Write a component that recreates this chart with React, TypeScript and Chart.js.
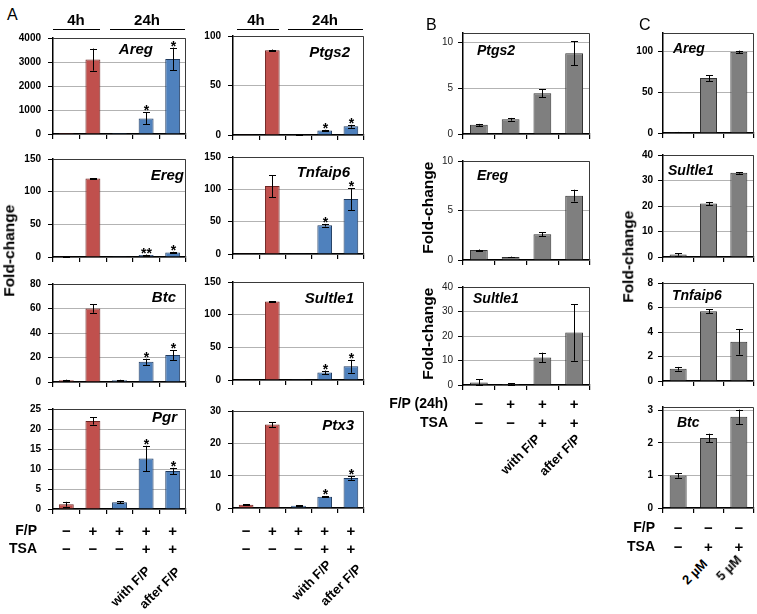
import React, { useEffect, useRef } from 'react';
import { Chart, registerables } from 'chart.js';
Chart.register(...registerables);

const FONT = '"Liberation Sans", Arial, sans-serif';
Chart.defaults.font.family = FONT;

// ---------------- data ----------------
const catsA = ['F/P− TSA−', 'F/P+ 4h', 'F/P+ 24h', 'F/P+ TSA with F/P', 'F/P+ TSA after F/P'];
const catsB = ['F/P− TSA−', 'F/P+ TSA−', 'F/P+ TSA with F/P', 'F/P+ TSA after F/P'];
const catsC = ['Control', 'TSA 2 µM', 'TSA 5 µM'];

const fpSignsA = ['−', '+', '+', '+', '+'];
const tsaSignsA = ['−', '−', '−', '+', '+'];
const fpSignsB = ['−', '+', '+', '+'];
const tsaSignsB = ['−', '−', '+', '+'];
const fpSignsC = ['−', '−', '−'];
const tsaSignsC = ['−', '+', '+'];
const treatLabels = ['with F/P', 'after F/P'];
const doseLabels = ['2 µM', '5 µM'];

// Panel A (fold-change, SEM)
const aAreg = [4, 3100, 4, 650, 3130];
const aAregErr = [0, 460, 0, 250, 470];
const aEreg = [1, 120, 0.3, 3, 7];
const aEregErr = [0.3, 0.5, 0, 0.8, 1];
const aBtc = [1.5, 60, 1.5, 16.5, 22];
const aBtcErr = [0.4, 3.5, 0.3, 2.5, 4];
const aPgr = [1.2, 22, 1.7, 12.6, 9.5];
const aPgrErr = [0.6, 0.9, 0.25, 3.2, 0.8];
const aPtgs2 = [0.3, 85.5, 0.7, 4.5, 8.8];
const aPtgs2Err = [0, 0.8, 0.2, 0.8, 1.5];
const aTnfaip6 = [0.5, 105, 0.5, 44.5, 85];
const aTnfaip6Err = [0, 17, 0, 2, 17];
const aSultle1 = [1, 120, 0.3, 11.5, 21];
const aSultle1Err = [0.2, 0.5, 0, 3, 10];
const aPtx3 = [1, 25.8, 0.7, 3.5, 9.3];
const aPtx3Err = [0.1, 0.7, 0.1, 0.2, 0.6];
const starsA = ['', '', '', '*', '*'];
const starsEreg = ['', '', '', '**', '*'];

// Panel B
const bPtgs2 = [1, 1.6, 4.45, 8.8];
const bPtgs2Err = [0.1, 0.15, 0.45, 1.3];
const bEreg = [1, 0.3, 2.6, 6.5];
const bEregErr = [0.06, 0.04, 0.2, 0.6];
const bSultle1 = [1, 0.4, 11.2, 21.4];
const bSultle1Err = [1.3, 0.3, 2, 11.5];

// Panel C
const cAreg = [1, 67, 99];
const cAregErr = [0.3, 3.5, 1.5];
const cSultle1 = [1, 21, 33];
const cSultle1Err = [0.5, 0.6, 0.3];
const cTnfaip6 = [1, 5.7, 3.2];
const cTnfaip6Err = [0.15, 0.15, 1.05];
const cBtc = [1, 2.15, 2.8];
const cBtcErr = [0.07, 0.13, 0.22];

// ---------------- styles / layout ----------------
const RED = '#c0504d', RED_B = '#6e2422';
const BLUE = '#4f81bd', BLUE_B = '#1f3a5f';
const GRAY = '#7f7f7f', GRAY_B = '#333333';
const colorsA = [RED, RED, BLUE, BLUE, BLUE];
const bordersA = [RED_B, RED_B, BLUE_B, BLUE_B, BLUE_B];

const YW = 40, PADT = 10, PADR = 4, XH = 8;

type Spec = {
  name: string; cats: string[]; data: number[]; err: number[]; stars?: string[];
  x0: number; x1: number; y0: number; y1: number; max: number; step: number;
  panel: 'A' | 'B' | 'C'; lx: number; ly: number; align: 'left' | 'right';
};

const colA1 = { x0: 53, x1: 186 };
const colA2 = { x0: 233, x1: 364 };
const colB = { x0: 463, x1: 590 };
const colC = { x0: 663, x1: 754 };

const specs: Spec[] = [
  { name: 'Areg', cats: catsA, data: aAreg, err: aAregErr, stars: starsA, ...colA1, y0: 35, y1: 139, max: 4000, step: 1000, panel: 'A', lx: 153, ly: 54, align: 'right' },
  { name: 'Ereg', cats: catsA, data: aEreg, err: aEregErr, stars: starsEreg, ...colA1, y0: 156, y1: 262, max: 150, step: 50, panel: 'A', lx: 184, ly: 180, align: 'right' },
  { name: 'Btc', cats: catsA, data: aBtc, err: aBtcErr, stars: starsA, ...colA1, y0: 281, y1: 387, max: 80, step: 20, panel: 'A', lx: 176, ly: 302, align: 'right' },
  { name: 'Pgr', cats: catsA, data: aPgr, err: aPgrErr, stars: starsA, ...colA1, y0: 406, y1: 514, max: 25, step: 5, panel: 'A', lx: 177, ly: 422, align: 'right' },
  { name: 'Ptgs2', cats: catsA, data: aPtgs2, err: aPtgs2Err, stars: starsA, ...colA2, y0: 33, y1: 140, max: 100, step: 50, panel: 'A', lx: 350, ly: 57, align: 'right' },
  { name: 'Tnfaip6', cats: catsA, data: aTnfaip6, err: aTnfaip6Err, stars: starsA, ...colA2, y0: 154, y1: 259, max: 150, step: 50, panel: 'A', lx: 350, ly: 177, align: 'right' },
  { name: 'Sultle1', cats: catsA, data: aSultle1, err: aSultle1Err, stars: starsA, ...colA2, y0: 279, y1: 385, max: 150, step: 50, panel: 'A', lx: 354, ly: 303, align: 'right' },
  { name: 'Ptx3', cats: catsA, data: aPtx3, err: aPtx3Err, stars: starsA, ...colA2, y0: 408, y1: 513, max: 30, step: 10, panel: 'A', lx: 354, ly: 430, align: 'right' },
  { name: 'Ptgs2', cats: catsB, data: bPtgs2, err: bPtgs2Err, ...colB, y0: 32, y1: 137, max: 11, step: 5, panel: 'B', lx: 477, ly: 55, align: 'left' },
  { name: 'Ereg', cats: catsB, data: bEreg, err: bEregErr, ...colB, y0: 160, y1: 263, max: 10, step: 5, panel: 'B', lx: 477, ly: 180, align: 'left' },
  { name: 'Sultle1', cats: catsB, data: bSultle1, err: bSultle1Err, ...colB, y0: 286, y1: 388, max: 40, step: 10, panel: 'B', lx: 473, ly: 303, align: 'left' },
  { name: 'Areg', cats: catsC, data: cAreg, err: cAregErr, ...colC, y0: 32, y1: 136, max: 122, step: 50, panel: 'C', lx: 673, ly: 53, align: 'left' },
  { name: 'Sultle1', cats: catsC, data: cSultle1, err: cSultle1Err, ...colC, y0: 154, y1: 260, max: 40, step: 10, panel: 'C', lx: 668, ly: 175, align: 'left' },
  { name: 'Tnfaip6', cats: catsC, data: cTnfaip6, err: cTnfaip6Err, ...colC, y0: 282, y1: 384, max: 8, step: 2, panel: 'C', lx: 672, ly: 300, align: 'left' },
  { name: 'Btc', cats: catsC, data: cBtc, err: cBtcErr, ...colC, y0: 406, y1: 511, max: 3.1, step: 1, panel: 'C', lx: 677, ly: 427, align: 'left' },
];

function BarPanel({ spec }: { spec: Spec }) {
  const ref = useRef<HTMLCanvasElement | null>(null);
  const W = spec.x1 - spec.x0 + YW + PADR;
  const H = spec.y1 - spec.y0 + PADT + XH;
  useEffect(() => {
    const isA = spec.panel === 'A';
    const bg = isA ? colorsA.slice(0, spec.data.length) : spec.data.map(() => GRAY);
    const bd = isA ? bordersA.slice(0, spec.data.length) : spec.data.map(() => GRAY_B);
    const tickFont = spec.panel === 'A'
      ? { size: 10, weight: 'bold' as const }
      : spec.panel === 'B' ? { size: 10, weight: 'normal' as const } : { size: 10, weight: 'bold' as const };
    const extras = {
      id: 'extras',
      afterDatasetsDraw(chart: any) {
        const ctx = chart.ctx;
        const ca = chart.chartArea;
        const ys = chart.scales.y;
        const meta = chart.getDatasetMeta(0);
        ctx.save();
        // box top/right
        ctx.strokeStyle = '#3a3a3a';
        ctx.lineWidth = 1;
        ctx.beginPath();
        ctx.moveTo(Math.round(ca.left), Math.round(ca.top) + 0.5);
        ctx.lineTo(Math.round(ca.right) - 0.5, Math.round(ca.top) + 0.5);
        ctx.lineTo(Math.round(ca.right) - 0.5, ca.bottom);
        ctx.stroke();
        // error bars
        ctx.strokeStyle = '#000';
        ctx.lineWidth = 1;
        meta.data.forEach((bar: any, i: number) => {
          const e = spec.err[i];
          const v = spec.data[i];
          const x = Math.round(bar.x) + 0.5;
          let topY = ys.getPixelForValue(v);
          if (e > 0) {
            const yT = ys.getPixelForValue(v + e);
            const yB = ys.getPixelForValue(Math.max(0, v - e));
            ctx.beginPath();
            ctx.moveTo(x, yT); ctx.lineTo(x, yB);
            ctx.moveTo(x - 3.5, Math.round(yT) + 0.5); ctx.lineTo(x + 3.5, Math.round(yT) + 0.5);
            ctx.moveTo(x - 3.5, Math.round(yB) + 0.5); ctx.lineTo(x + 3.5, Math.round(yB) + 0.5);
            ctx.stroke();
            topY = yT;
          }
          const s = spec.stars ? spec.stars[i] : '';
          if (s) {
            ctx.fillStyle = '#000';
            ctx.font = `bold 14px ${FONT}`;
            ctx.textAlign = 'center';
            ctx.textBaseline = 'alphabetic';
            ctx.fillText(s, x, topY + 3);
          }
        });
        // gene label
        ctx.fillStyle = '#000';
        ctx.font = `italic bold ${isA ? 15 : 14}px ${FONT}`;
        ctx.textAlign = spec.align;
        ctx.textBaseline = 'alphabetic';
        const off = spec.x0 - YW;
        ctx.fillText(spec.name, spec.lx - off, spec.ly - (spec.y0 - PADT));
        ctx.restore();
      },
    };
    const step = spec.step;
    const chart = new Chart(ref.current as HTMLCanvasElement, {
      type: 'bar',
      data: {
        labels: spec.cats,
        datasets: [{
          data: spec.data,
          backgroundColor: bg,
          borderColor: bd,
          borderWidth: 1,
          barPercentage: 0.56,
          categoryPercentage: 1,
        }],
      },
      options: {
        animation: false,
        responsive: false,
        maintainAspectRatio: false,
        layout: { padding: { top: PADT, right: PADR, left: 0, bottom: 0 } },
        plugins: { legend: { display: false }, tooltip: { enabled: false } },
        scales: {
          x: {
            grid: { offset: true, drawOnChartArea: false, drawTicks: true, tickLength: 5, color: '#000', tickColor: '#000', lineWidth: 1.2 },
            border: { color: '#000', width: 1.5 },
            ticks: { display: false },
            afterFit: (s: any) => { s.height = XH; },
          },
          y: {
            min: 0,
            max: spec.max,
            ticks: {
              stepSize: step,
              includeBounds: false,
              autoSkip: false,
              font: tickFont,
              color: spec.panel === 'B' ? '#222' : '#000',
              padding: spec.panel === 'A' ? 7 : 5,
              callback: (v: any) => String(v),
            },
            grid: { color: '#b3b3b3', tickColor: '#000', tickLength: 5, lineWidth: 1 },
            border: { color: '#000', width: 1.5 },
            afterFit: (s: any) => { s.width = YW; },
            afterBuildTicks: (s: any) => {
              s.ticks = s.ticks.filter((t: any) => t.value <= spec.max + 1e-9 && Math.abs(t.value / step - Math.round(t.value / step)) < 1e-6);
            },
          },
        },
      },
      plugins: [extras],
    } as any);
    return () => chart.destroy();
  }, [spec]);
  return (
    <canvas
      ref={ref}
      width={W}
      height={H}
      style={{ position: 'absolute', left: spec.x0 - YW, top: spec.y0 - PADT, width: W, height: H }}
    />
  );
}

type TP = { x: number; y: number; size?: number; weight?: string; align?: 'left' | 'center' | 'right'; children: React.ReactNode; style?: React.CSSProperties };
function T({ x, y, size = 14, weight = 'bold', align = 'left', children, style }: TP) {
  const w = 200;
  const left = align === 'left' ? x : align === 'center' ? x - w / 2 : x - w;
  return (
    <div style={{
      position: 'absolute', left, top: y - size / 2, width: w, height: size, lineHeight: `${size}px`,
      fontSize: size, fontWeight: weight as any, fontFamily: FONT, textAlign: align, whiteSpace: 'nowrap', color: '#000', ...style,
    }}>{children}</div>
  );
}

function VText({ cx, cy, size = 15.5, children }: { cx: number; cy: number; size?: number; children: React.ReactNode }) {
  return (
    <div style={{
      position: 'absolute', left: cx - 100, top: cy - size / 2, width: 200, height: size, lineHeight: `${size}px`,
      fontSize: size, fontWeight: 'bold', fontFamily: FONT, textAlign: 'center', whiteSpace: 'nowrap',
      transform: 'rotate(-90deg)', transformOrigin: '50% 50%', color: '#000',
    }}>{children}</div>
  );
}

function Diag({ x, y, size = 13, children }: { x: number; y: number; size?: number; children: React.ReactNode }) {
  return (
    <div style={{
      position: 'absolute', left: x - 150, top: y - size / 2, width: 150, height: size, lineHeight: `${size}px`,
      fontSize: size, fontWeight: 'bold', fontFamily: FONT, textAlign: 'right', whiteSpace: 'nowrap',
      transform: 'rotate(-45deg)', transformOrigin: '100% 50%', color: '#000',
    }}>{children}</div>
  );
}

function HLine({ x0, x1, y }: { x0: number; x1: number; y: number }) {
  return <div style={{ position: 'absolute', left: x0, top: y, width: x1 - x0, height: 0, borderTop: '1.5px solid #000' }} />;
}

function centers(col: { x0: number; x1: number }, n: number) {
  const w = (col.x1 - col.x0) / n;
  return Array.from({ length: n }, (_, i) => col.x0 + (i + 0.5) * w);
}

function SignRow({ col, signs, y }: { col: { x0: number; x1: number }; signs: string[]; y: number }) {
  const cs = centers(col, signs.length);
  return <>{signs.map((s, i) => <T key={i} x={cs[i]} y={y} size={15} align="center">{s}</T>)}</>;
}

export default function App() {
  const cA1 = centers(colA1, 5);
  const cA2 = centers(colA2, 5);
  const cB = centers(colB, 4);
  const cC = centers(colC, 3);
  return (
    <div style={{ position: 'absolute', left: 0, top: 0, width: 757, height: 614, background: '#fff', overflow: 'hidden' }}>
      {specs.map((s, i) => <BarPanel key={i} spec={s} />)}

      <T x={7} y={15} size={16} weight="normal">A</T>
      <T x={426} y={25} size={16} weight="normal">B</T>
      <T x={639} y={25} size={16} weight="normal">C</T>

      <T x={76} y={19} size={15} align="center">4h</T>
      <HLine x0={53} x1={100} y={29} />
      <T x={147} y={19} size={15} align="center">24h</T>
      <HLine x0={110} x1={185} y={29} />
      <T x={256} y={19} size={15} align="center">4h</T>
      <HLine x0={237} x1={279} y={29} />
      <T x={325} y={19} size={15} align="center">24h</T>
      <HLine x0={288} x1={363} y={29} />

      <VText cx={9} cy={251}>Fold-change</VText>
      <VText cx={428} cy={208}>Fold-change</VText>
      <VText cx={428} cy={334}>Fold-change</VText>
      <VText cx={628} cy={257}>Fold-change</VText>

      <T x={37} y={530} size={14} align="right">F/P</T>
      <T x={37} y={548} size={14} align="right">TSA</T>
      <SignRow col={colA1} signs={fpSignsA} y={530} />
      <SignRow col={colA1} signs={tsaSignsA} y={548} />
      <SignRow col={colA2} signs={fpSignsA} y={530} />
      <SignRow col={colA2} signs={tsaSignsA} y={548} />
      <Diag x={cA1[3] + 2} y={568}>{treatLabels[0]}</Diag>
      <Diag x={cA1[4] + 5} y={569}>{treatLabels[1]}</Diag>
      <Diag x={cA2[3] + 4} y={562}>{treatLabels[0]}</Diag>
      <Diag x={cA2[4] + 8} y={566}>{treatLabels[1]}</Diag>

      <T x={448} y={403} size={14} align="right">F/P (24h)</T>
      <T x={448} y={422} size={14} align="right">TSA</T>
      <SignRow col={colB} signs={fpSignsB} y={403} />
      <SignRow col={colB} signs={tsaSignsB} y={422} />
      <Diag x={cB[2] - 4} y={436}>{treatLabels[0]}</Diag>
      <Diag x={cB[3] + 4} y={436}>{treatLabels[1]}</Diag>

      <T x={655} y={527} size={14} align="right">F/P</T>
      <T x={655} y={546} size={14} align="right">TSA</T>
      <SignRow col={colC} signs={fpSignsC} y={527} />
      <SignRow col={colC} signs={tsaSignsC} y={546} />
      <Diag x={cC[1] - 4} y={561}>{doseLabels[0]}</Diag>
      <Diag x={cC[2]} y={557}>{doseLabels[1]}</Diag>
    </div>
  );
}
